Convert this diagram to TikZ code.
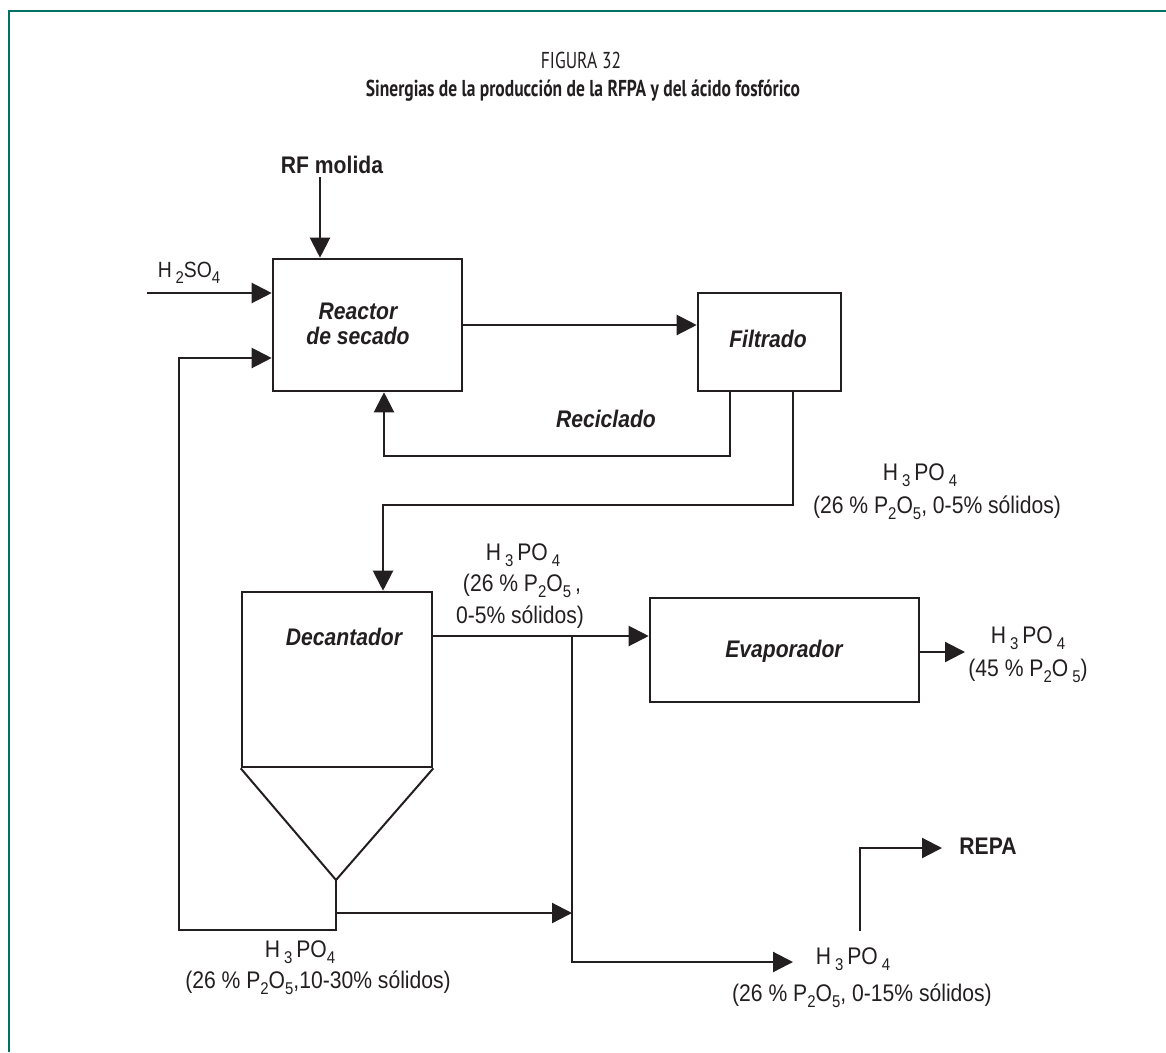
\documentclass[tikz,border=0pt]{standalone}
\usepackage{fontspec}
\setmainfont{Liberation Sans}[FakeStretch=0.88]
\newfontfamily\titlefont{PT Sans}[FakeStretch=0.76]
\usetikzlibrary{arrows.meta}
\definecolor{ink}{RGB}{35,31,32}
\definecolor{frameteal}{RGB}{0,112,99}
\newcommand\chsub[1]{\raisebox{-6.5pt}{\fontsize{17}{17}\selectfont #1}}
\begin{document}
\begin{tikzpicture}[x=1pt,y=-1pt,
  unit/.style={draw=ink,line width=2.6pt,inner sep=0pt},
  arr/.style={draw=ink,line width=2.2pt,-{Triangle[length=20pt,width=20pt]}},
  cone/.style={draw=ink,line width=2.0pt},
  frameline/.style={draw=frameteal,line width=2.6pt},
  lbl/.style={font=\fontsize{24}{25}\selectfont\bfseries\itshape,text=ink,inner sep=0pt},
  boldlbl/.style={font=\fontsize{24}{28}\selectfont\bfseries,text=ink,inner sep=0pt,anchor=base},
  chem/.style={font=\fontsize{24}{28}\selectfont,text=ink,inner sep=0pt,anchor=base},
  ttl/.style={font=\titlefont\fontsize{23}{26}\selectfont,text=ink,inner sep=0pt,anchor=base}]
\useasboundingbox (0,0) rectangle (1166,1052);
% frame
\draw[frameline] (1166,11) -- (9,11) -- (9,1052);
% title
\node[ttl] (t1) at (581,68) {FIGURA 32};
\node[ttl,font=\titlefont\fontsize{23}{26}\selectfont\bfseries] (t2) at (583,96) {Sinergias de la producción de la RFPA y del ácido fosfórico};
% units
\node[unit,minimum width=189pt,minimum height=132pt] (reactor) at (367.5,325) {};
\node[unit,minimum width=143pt,minimum height=98pt] (filtrado) at (769.5,342) {};
\node[unit,minimum width=190pt,minimum height=175pt] (decanter) at (337,679.5) {};
\node[unit,minimum width=269pt,minimum height=104pt] (evap) at (784.5,650) {};
% unit labels
\node[lbl,align=center] (rlab) at (358,324) {Reactor\\de secado};
\node[lbl,anchor=base] (flab) at (768,347) {Filtrado};
\node[lbl,anchor=base] (dlab) at (344,645) {Decantador};
\node[lbl,anchor=base] (elab) at (784,657) {Evaporador};
\node[lbl,anchor=base] (reclab) at (606,427) {Reciclado};
% stream labels
\node[boldlbl] (rf) at (332,173) {RF molida};
\node[chem,font=\fontsize{22}{26}\selectfont] (h2so4) at (189,277) {H\,\chsub{2}SO\chsub{4}};
\node[chem] (f1) at (920,480) {H\,\chsub{3}\,PO\,\chsub{4}};
\node[chem] (f2) at (937,513) {(26 \% P\chsub{2}O\chsub{5}, 0-5\% sólidos)};
\node[chem] (d1) at (523,560) {H\,\chsub{3}\,PO\,\chsub{4}};
\node[chem] (d2) at (522,591) {(26 \% P\chsub{2}O\chsub{5}\,,};
\node[chem] (d3) at (520,623) {0-5\% sólidos)};
\node[chem] (e1) at (1028,643) {H\,\chsub{3}\,PO\,\chsub{4}};
\node[chem] (e2) at (1028,676) {(45 \% P\chsub{2}O\,\chsub{5})};
\node[chem] (b1) at (300,957) {H\,\chsub{3}\,PO\chsub{4}};
\node[chem] (b2) at (318,988) {(26 \% P\chsub{2}O\chsub{5},10-30\% sólidos)};
\node[chem] (r1) at (853,964) {H\,\chsub{3}\,PO\,\chsub{4}};
\node[chem] (r2) at (862,1001) {(26 \% P\chsub{2}O\chsub{5}, 0-15\% sólidos)};
\node[boldlbl] (repa) at (988,854) {REPA};
% coordinates
\coordinate (rfin) at (320,177);
\coordinate (h2in) at (147,293);
\coordinate (rc1) at (730,456);
\coordinate (rc2) at (384,456);
\coordinate (fo) at (793,505);
\coordinate (dd) at (383,505);
\coordinate (dq) at (0,636);
\coordinate (br) at (572,636);
\coordinate (bb) at (572,962);
\coordinate (bt) at (793,962);
\coordinate (apex) at (336,880);
\coordinate (uf) at (336,930);
\coordinate (ul) at (179,930);
\coordinate (ut) at (179,358);
\coordinate (sj) at (336,913);
\coordinate (eo) at (965,652);
\coordinate (rp) at (860,931);
\coordinate (rpc) at (860,848);
\coordinate (rpt) at (942,848);
% connectors
\draw[arr] (rfin) -- (rfin |- reactor.north);
\draw[arr] (h2in) -- (h2in -| reactor.west);
\draw[arr] (reactor.east) -- (reactor.east -| filtrado.west);
\draw[arr] (rc1 |- filtrado.south) -- (rc1) -- (rc2) -- (rc2 |- reactor.south);
\draw[arr] (fo |- filtrado.south) -- (fo) -- (dd) -- (dd |- decanter.north);
\draw[arr] (decanter.east |- dq) -- (evap.west |- dq);
\draw[arr] (br) -- (bb) -- (bt);
\draw[cone] (decanter.south west) -- (apex) -- (decanter.south east);
\draw[arr] (apex) -- (uf) -- (ul) -- (ut) -- (ut -| reactor.west);
\draw[arr] (sj) -- (sj -| br);
\draw[arr] (evap.east |- eo) -- (eo);
\draw[arr] (rp) -- (rpc) -- (rpt);
\end{tikzpicture}
\end{document}
